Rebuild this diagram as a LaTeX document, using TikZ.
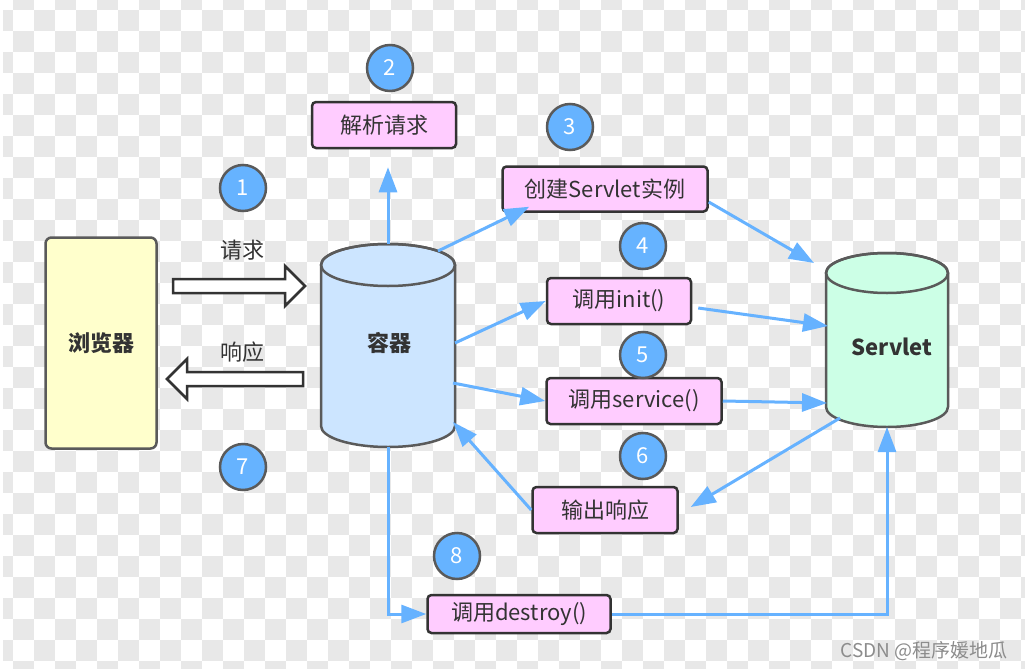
\documentclass[tikz,border=0pt]{standalone}
\usepackage{fontspec}
\setmainfont{Noto Sans CJK SC}
\usetikzlibrary{arrows.meta}
\definecolor{arrowblue}{RGB}{102,178,255}
\definecolor{circblue}{RGB}{102,179,255}
\definecolor{pinkfill}{RGB}{255,204,255}
\definecolor{ctfill}{RGB}{204,229,255}
\definecolor{svfill}{RGB}{204,255,230}
\definecolor{brfill}{RGB}{255,255,204}
\definecolor{edge}{RGB}{90,90,90}
\definecolor{boxedge}{RGB}{51,51,51}
\definecolor{txt}{RGB}{51,51,51}
\definecolor{checker}{RGB}{232,232,232}
\definecolor{wmgray}{RGB}{140,140,140}
\begin{document}
\begin{tikzpicture}[x=1pt,y=1pt,
  stepbox/.style={draw=boxedge, line width=2.5pt, rounded corners=4pt, fill=pinkfill,
    inner sep=0pt, text=txt, font=\fontsize{22}{26}\selectfont},
  numdot/.style={circle, draw=edge, line width=2.5pt, fill=circblue, minimum size=46pt,
    inner sep=0pt, text=white, font=\fontsize{22}{26}\selectfont},
  arr/.style={draw=arrowblue, line width=3pt, -{Triangle[length=25pt,width=18pt]}},
  plainline/.style={draw=arrowblue, line width=3pt},
  cyl/.style={draw=edge, line width=2.5pt},
  hollow/.style={draw=boxedge, line width=2.5pt, fill=white, line join=miter},
  lbl/.style={text=txt, font=\fontsize{22}{26}\selectfont},
  boldlbl/.style={text=txt, font=\fontsize{22}{26}\selectfont\bfseries}
]
\useasboundingbox (0,0) rectangle (1025,-669);
\fill[white] (0,0) rectangle (1025,-669);
% checkerboard background
\begin{scope}
\clip (3,0) rectangle (1025,-669);
\foreach \c in {-1,...,48}{\foreach \r in {-1,...,31}{
  \pgfmathtruncatemacro\s{mod(\c+\r+100,2)}
  \ifnum\s=1 \fill[checker] ({13.3+21*\c},{-10-21*\r}) rectangle ++(21,-21);\fi
}}
\end{scope}

% browser
\node[draw=edge, line width=2.5pt, rounded corners=6pt, fill=brfill, minimum width=111pt,
  minimum height=211pt, inner sep=0pt, boldlbl] (br) at (101,-343) {浏览器};

% container cylinder
\filldraw[cyl, fill=ctfill] (321,-265) -- (321,-426)
  arc[start angle=180,end angle=360,x radius=67pt,y radius=21pt] -- (455,-265)
  arc[start angle=0,end angle=180,x radius=67pt,y radius=21pt] -- cycle;
\draw[cyl] (388,-265) ellipse [x radius=67pt,y radius=21pt];
\node[boldlbl] (ctr) at (389,-343) {容器};
\coordinate (ctop) at (388,-244);
\coordinate (cbot) at (388,-447);
\coordinate (cA) at (438,-251);
\coordinate (cB) at (455,-343);
\coordinate (cC) at (453,-383);
\coordinate (cD) at (453,-422);

% servlet cylinder
\filldraw[cyl, fill=svfill] (826,-273) -- (826,-407)
  arc[start angle=180,end angle=360,x radius=61pt,y radius=20pt] -- (948,-273)
  arc[start angle=0,end angle=180,x radius=61pt,y radius=20pt] -- cycle;
\draw[cyl] (887,-273) ellipse [x radius=61pt,y radius=20pt];
\node[boldlbl] (sv) at (892,-347) {Servlet};
\coordinate (sA) at (814,-263);
\coordinate (sB) at (828,-326);
\coordinate (sC) at (827,-403);
\coordinate (sD) at (840,-418);
\coordinate (sbot) at (887,-427);

% step boxes
\node[stepbox, minimum width=144pt, minimum height=46pt] (p2) at (384,-125) {解析请求};
\node[stepbox, minimum width=205pt, minimum height=45pt] (p3) at (605,-189) {创建Servlet实例};
\node[stepbox, minimum width=144pt, minimum height=46pt] (p4) at (619,-301) {调用init()};
\node[stepbox, minimum width=175pt, minimum height=46pt] (p5) at (634,-401) {调用service()};
\node[stepbox, minimum width=145pt, minimum height=46pt] (p6) at (605,-510) {输出响应};
\node[stepbox, minimum width=183pt, minimum height=38pt] (p8) at (519,-614) {调用destroy()};

% numbered circles
\node[numdot] (n1) at (243,-188) {1};
\node[numdot] (n2) at (390,-68) {2};
\node[numdot] (n3) at (570,-127) {3};
\node[numdot] (n4) at (643,-246) {4};
\node[numdot] (n5) at (643,-355) {5};
\node[numdot] (n6) at (643,-456) {6};
\node[numdot] (n7) at (243,-467) {7};
\node[numdot] (n8) at (457,-556) {8};

% request / response labels and hollow arrows
\node[lbl] (req) at (242,-250) {请求};
\node[lbl] (resp) at (242,-352) {响应};
\filldraw[hollow] (173,-279) -- (285,-279) -- (285,-266) -- (305,-286) -- (285,-306)
  -- (285,-293) -- (173,-293) -- cycle;
\filldraw[hollow] (303,-372) -- (187,-372) -- (187,-359) -- (167,-379) -- (187,-399)
  -- (187,-386) -- (303,-386) -- cycle;

% connectors
\draw[arr, shorten >=18pt] (ctop) -- (ctop |- p2.south);
\draw[arr] (cA) -- ([shift={(28,6)}]p3.south west);
\draw[arr] (cB) -- (p4.west);
\draw[arr] (cC) -- (p5.west);
\draw[arr] (p6.west) -- (cD);
\draw[arr] ([yshift=-13pt]p3.east) -- (sA);
\draw[arr] ([shift={(6,-7)}]p4.east) -- (sB);
\draw[arr] (p5.east) -- (sC);
\draw[arr] (sD) -- ([shift={(12,3)}]p6.east);
\draw[arr] (cbot) |- (p8.west);
\draw[arr] (p8.east) -| (sbot);

% watermark
\node[text=wmgray, font=\fontsize{19}{22}\selectfont] (wm) at (924,-651) {CSDN @程序媛地瓜};
\end{tikzpicture}
\end{document}
